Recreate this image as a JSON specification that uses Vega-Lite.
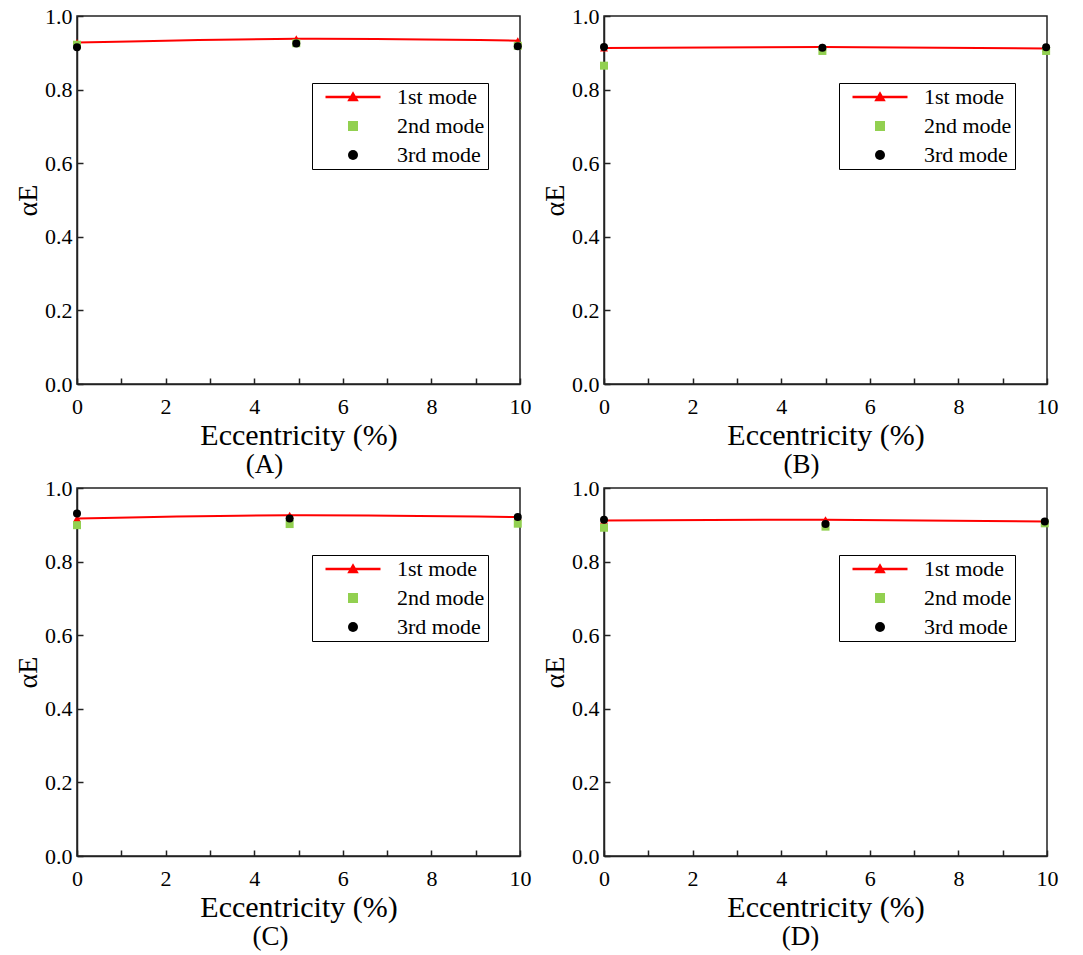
{
  "$schema": "https://vega.github.io/schema/vega-lite/v6.json",
  "background": "white",
  "padding": {"left": 13, "top": 4, "right": 5, "bottom": 5},
  "config": {
    "font": "Liberation Serif",
    "view": {"stroke": "#222222", "strokeWidth": 1.5},
    "axis": {"domainColor": "#222222", "domainWidth": 1.5, "tickColor": "#222222", "tickWidth": 1.5, "labelFont": "Liberation Serif", "labelFontSize": 22, "labelColor": "black", "titleFont": "Liberation Serif", "titleFontWeight": "normal", "titleColor": "black", "grid": false, "labelOverlap": false, "labelFlush": false},
    "legend": {"padding": 3, "strokeColor": "black", "fillColor": "white", "labelFontSize": 22, "labelFont": "Liberation Serif", "labelColor": "black", "symbolOffset": 27, "labelOffset": 33, "rowPadding": 7, "symbolOpacity": 1, "symbolStrokeWidth": 0, "cornerRadius": 0},
    "title": {"font": "Liberation Serif", "fontSize": 27, "fontWeight": "normal", "color": "black", "offset": 2}
  },
  "data": {"values": [
    {"panel": "A", "mode": "1st mode", "ecc": 0, "alpha": 0.928},
    {"panel": "A", "mode": "1st mode", "ecc": 4.95, "alpha": 0.938},
    {"panel": "A", "mode": "1st mode", "ecc": 9.95, "alpha": 0.933},
    {"panel": "A", "mode": "2nd mode", "ecc": 0, "alpha": 0.922},
    {"panel": "A", "mode": "2nd mode", "ecc": 4.95, "alpha": 0.926},
    {"panel": "A", "mode": "2nd mode", "ecc": 9.95, "alpha": 0.919},
    {"panel": "A", "mode": "3rd mode", "ecc": 0, "alpha": 0.915},
    {"panel": "A", "mode": "3rd mode", "ecc": 4.95, "alpha": 0.925},
    {"panel": "A", "mode": "3rd mode", "ecc": 9.95, "alpha": 0.918},
    {"panel": "B", "mode": "1st mode", "ecc": 0, "alpha": 0.913},
    {"panel": "B", "mode": "1st mode", "ecc": 4.93, "alpha": 0.916},
    {"panel": "B", "mode": "1st mode", "ecc": 9.98, "alpha": 0.912},
    {"panel": "B", "mode": "2nd mode", "ecc": 0, "alpha": 0.865},
    {"panel": "B", "mode": "2nd mode", "ecc": 4.93, "alpha": 0.905},
    {"panel": "B", "mode": "2nd mode", "ecc": 9.98, "alpha": 0.905},
    {"panel": "B", "mode": "3rd mode", "ecc": 0, "alpha": 0.916},
    {"panel": "B", "mode": "3rd mode", "ecc": 4.93, "alpha": 0.914},
    {"panel": "B", "mode": "3rd mode", "ecc": 9.98, "alpha": 0.915},
    {"panel": "C", "mode": "1st mode", "ecc": 0, "alpha": 0.917},
    {"panel": "C", "mode": "1st mode", "ecc": 4.8, "alpha": 0.926},
    {"panel": "C", "mode": "1st mode", "ecc": 9.95, "alpha": 0.921},
    {"panel": "C", "mode": "2nd mode", "ecc": 0, "alpha": 0.899},
    {"panel": "C", "mode": "2nd mode", "ecc": 4.8, "alpha": 0.902},
    {"panel": "C", "mode": "2nd mode", "ecc": 9.95, "alpha": 0.903},
    {"panel": "C", "mode": "3rd mode", "ecc": 0, "alpha": 0.931},
    {"panel": "C", "mode": "3rd mode", "ecc": 4.8, "alpha": 0.917},
    {"panel": "C", "mode": "3rd mode", "ecc": 9.95, "alpha": 0.921},
    {"panel": "D", "mode": "1st mode", "ecc": 0, "alpha": 0.912},
    {"panel": "D", "mode": "1st mode", "ecc": 5.0, "alpha": 0.914},
    {"panel": "D", "mode": "1st mode", "ecc": 9.95, "alpha": 0.909},
    {"panel": "D", "mode": "2nd mode", "ecc": 0, "alpha": 0.892},
    {"panel": "D", "mode": "2nd mode", "ecc": 5.0, "alpha": 0.895},
    {"panel": "D", "mode": "2nd mode", "ecc": 9.95, "alpha": 0.904},
    {"panel": "D", "mode": "3rd mode", "ecc": 0, "alpha": 0.914},
    {"panel": "D", "mode": "3rd mode", "ecc": 5.0, "alpha": 0.902},
    {"panel": "D", "mode": "3rd mode", "ecc": 9.95, "alpha": 0.909}
  ]},
  "columns": 2,
  "bounds": "flush",
  "spacing": {"row": 104, "column": 84},
  "resolve": {"scale": {"color": "independent", "shape": "independent"}},
  "concat": [
    {
      "width": 443, "height": 368,
      "title": {"text": "(A)", "orient": "bottom", "font": "Liberation Serif", "dx": -34},
      "transform": [{"filter": "datum.panel === 'A'"}],
      "layer": [
        {"transform": [{"filter": "datum.mode === '1st mode'"}],
         "mark": {"type": "line", "color": "#ff0000", "strokeWidth": 2, "interpolate": "natural"},
         "encoding": {
           "x": {"field": "ecc", "type": "quantitative", "scale": {"domain": [0, 10], "nice": false}, "axis": {"values": [0,0.5,1,1.5,2,2.5,3,3.5,4,4.5,5,5.5,6,6.5,7,7.5,8,8.5,9,9.5,10], "labelExpr": "datum.value % 2 == 0 ? format(datum.value, 'd') : ''", "tickSize": -6, "labelPadding": 18, "labelFont": "Liberation Serif", "labelFontSize": 22, "title": "Eccentricity (%)", "titleFont": "Liberation Serif", "titleFontSize": 30, "titlePadding": 3}},
           "y": {"field": "alpha", "type": "quantitative", "scale": {"domain": [0, 1], "nice": false}, "axis": {"values": [0,0.05,0.1,0.15,0.2,0.25,0.3,0.35,0.4,0.45,0.5,0.55,0.6,0.65,0.7,0.75,0.8,0.85,0.9,0.95,1], "labelExpr": "abs(datum.value*5 - round(datum.value*5)) < 0.001 ? format(datum.value, '.1f') : ''", "tickSize": -6, "labelPadding": 11, "labelFont": "Liberation Serif", "labelFontSize": 22, "title": "αE", "titleFont": "Liberation Serif", "titleFontSize": 28, "titlePadding": 2}}
         }},
        {"transform": [{"filter": "datum.mode === '1st mode'"}],
         "mark": {"type": "point", "shape": "triangle-up", "filled": true, "color": "#ff0000", "size": 64, "opacity": 1},
         "encoding": {
           "x": {"field": "ecc", "type": "quantitative", "scale": {"domain": [0, 10], "nice": false}},
           "y": {"field": "alpha", "type": "quantitative", "scale": {"domain": [0, 1], "nice": false}}
         }},
        {"transform": [{"filter": "datum.mode !== '1st mode'"}],
         "mark": {"type": "point", "filled": true, "size": 64, "opacity": 1},
         "encoding": {
           "x": {"field": "ecc", "type": "quantitative", "scale": {"domain": [0, 10], "nice": false}},
           "y": {"field": "alpha", "type": "quantitative", "scale": {"domain": [0, 1], "nice": false}},
           "color": {"field": "mode", "type": "nominal", "scale": {"domain": ["1st mode", "2nd mode", "3rd mode"], "range": ["#ff0000", "#92d050", "#000000"]}, "legend": {"orient": "none", "legendX": 235, "legendY": 67, "title": null, "labelFont": "Liberation Serif", "labelFontSize": 22}},
           "shape": {"field": "mode", "type": "nominal", "scale": {"domain": ["1st mode", "2nd mode", "3rd mode"], "range": ["M-5.5,-0.25L5.5,-0.25L5.5,0.25L-5.5,0.25Z M0,-1.15L1.15,0.85L-1.15,0.85Z", "square", "circle"]}, "legend": {"orient": "none", "legendX": 235, "legendY": 67, "title": null, "labelFont": "Liberation Serif", "labelFontSize": 22}}
         }}
      ]
    },
    {
      "width": 443, "height": 368,
      "title": {"text": "(B)", "orient": "bottom", "font": "Liberation Serif", "dx": -24},
      "transform": [{"filter": "datum.panel === 'B'"}],
      "layer": [
        {"transform": [{"filter": "datum.mode === '1st mode'"}],
         "mark": {"type": "line", "color": "#ff0000", "strokeWidth": 2, "interpolate": "natural"},
         "encoding": {
           "x": {"field": "ecc", "type": "quantitative", "scale": {"domain": [0, 10], "nice": false}, "axis": {"values": [0,0.5,1,1.5,2,2.5,3,3.5,4,4.5,5,5.5,6,6.5,7,7.5,8,8.5,9,9.5,10], "labelExpr": "datum.value % 2 == 0 ? format(datum.value, 'd') : ''", "tickSize": -6, "labelPadding": 18, "labelFont": "Liberation Serif", "labelFontSize": 22, "title": "Eccentricity (%)", "titleFont": "Liberation Serif", "titleFontSize": 30, "titlePadding": 3}},
           "y": {"field": "alpha", "type": "quantitative", "scale": {"domain": [0, 1], "nice": false}, "axis": {"values": [0,0.05,0.1,0.15,0.2,0.25,0.3,0.35,0.4,0.45,0.5,0.55,0.6,0.65,0.7,0.75,0.8,0.85,0.9,0.95,1], "labelExpr": "abs(datum.value*5 - round(datum.value*5)) < 0.001 ? format(datum.value, '.1f') : ''", "tickSize": -6, "labelPadding": 11, "labelFont": "Liberation Serif", "labelFontSize": 22, "title": "αE", "titleFont": "Liberation Serif", "titleFontSize": 28, "titlePadding": 2}}
         }},
        {"transform": [{"filter": "datum.mode === '1st mode'"}],
         "mark": {"type": "point", "shape": "triangle-up", "filled": true, "color": "#ff0000", "size": 64, "opacity": 1},
         "encoding": {
           "x": {"field": "ecc", "type": "quantitative", "scale": {"domain": [0, 10], "nice": false}},
           "y": {"field": "alpha", "type": "quantitative", "scale": {"domain": [0, 1], "nice": false}}
         }},
        {"transform": [{"filter": "datum.mode !== '1st mode'"}],
         "mark": {"type": "point", "filled": true, "size": 64, "opacity": 1},
         "encoding": {
           "x": {"field": "ecc", "type": "quantitative", "scale": {"domain": [0, 10], "nice": false}},
           "y": {"field": "alpha", "type": "quantitative", "scale": {"domain": [0, 1], "nice": false}},
           "color": {"field": "mode", "type": "nominal", "scale": {"domain": ["1st mode", "2nd mode", "3rd mode"], "range": ["#ff0000", "#92d050", "#000000"]}, "legend": {"orient": "none", "legendX": 235, "legendY": 67, "title": null, "labelFont": "Liberation Serif", "labelFontSize": 22}},
           "shape": {"field": "mode", "type": "nominal", "scale": {"domain": ["1st mode", "2nd mode", "3rd mode"], "range": ["M-5.5,-0.25L5.5,-0.25L5.5,0.25L-5.5,0.25Z M0,-1.15L1.15,0.85L-1.15,0.85Z", "square", "circle"]}, "legend": {"orient": "none", "legendX": 235, "legendY": 67, "title": null, "labelFont": "Liberation Serif", "labelFontSize": 22}}
         }}
      ]
    },
    {
      "width": 443, "height": 368,
      "title": {"text": "(C)", "orient": "bottom", "font": "Liberation Serif", "dx": -28},
      "transform": [{"filter": "datum.panel === 'C'"}],
      "layer": [
        {"transform": [{"filter": "datum.mode === '1st mode'"}],
         "mark": {"type": "line", "color": "#ff0000", "strokeWidth": 2, "interpolate": "natural"},
         "encoding": {
           "x": {"field": "ecc", "type": "quantitative", "scale": {"domain": [0, 10], "nice": false}, "axis": {"values": [0,0.5,1,1.5,2,2.5,3,3.5,4,4.5,5,5.5,6,6.5,7,7.5,8,8.5,9,9.5,10], "labelExpr": "datum.value % 2 == 0 ? format(datum.value, 'd') : ''", "tickSize": -6, "labelPadding": 18, "labelFont": "Liberation Serif", "labelFontSize": 22, "title": "Eccentricity (%)", "titleFont": "Liberation Serif", "titleFontSize": 30, "titlePadding": 3}},
           "y": {"field": "alpha", "type": "quantitative", "scale": {"domain": [0, 1], "nice": false}, "axis": {"values": [0,0.05,0.1,0.15,0.2,0.25,0.3,0.35,0.4,0.45,0.5,0.55,0.6,0.65,0.7,0.75,0.8,0.85,0.9,0.95,1], "labelExpr": "abs(datum.value*5 - round(datum.value*5)) < 0.001 ? format(datum.value, '.1f') : ''", "tickSize": -6, "labelPadding": 11, "labelFont": "Liberation Serif", "labelFontSize": 22, "title": "αE", "titleFont": "Liberation Serif", "titleFontSize": 28, "titlePadding": 2}}
         }},
        {"transform": [{"filter": "datum.mode === '1st mode'"}],
         "mark": {"type": "point", "shape": "triangle-up", "filled": true, "color": "#ff0000", "size": 64, "opacity": 1},
         "encoding": {
           "x": {"field": "ecc", "type": "quantitative", "scale": {"domain": [0, 10], "nice": false}},
           "y": {"field": "alpha", "type": "quantitative", "scale": {"domain": [0, 1], "nice": false}}
         }},
        {"transform": [{"filter": "datum.mode !== '1st mode'"}],
         "mark": {"type": "point", "filled": true, "size": 64, "opacity": 1},
         "encoding": {
           "x": {"field": "ecc", "type": "quantitative", "scale": {"domain": [0, 10], "nice": false}},
           "y": {"field": "alpha", "type": "quantitative", "scale": {"domain": [0, 1], "nice": false}},
           "color": {"field": "mode", "type": "nominal", "scale": {"domain": ["1st mode", "2nd mode", "3rd mode"], "range": ["#ff0000", "#92d050", "#000000"]}, "legend": {"orient": "none", "legendX": 235, "legendY": 67, "title": null, "labelFont": "Liberation Serif", "labelFontSize": 22}},
           "shape": {"field": "mode", "type": "nominal", "scale": {"domain": ["1st mode", "2nd mode", "3rd mode"], "range": ["M-5.5,-0.25L5.5,-0.25L5.5,0.25L-5.5,0.25Z M0,-1.15L1.15,0.85L-1.15,0.85Z", "square", "circle"]}, "legend": {"orient": "none", "legendX": 235, "legendY": 67, "title": null, "labelFont": "Liberation Serif", "labelFontSize": 22}}
         }}
      ]
    },
    {
      "width": 443, "height": 368,
      "title": {"text": "(D)", "orient": "bottom", "font": "Liberation Serif", "dx": -25},
      "transform": [{"filter": "datum.panel === 'D'"}],
      "layer": [
        {"transform": [{"filter": "datum.mode === '1st mode'"}],
         "mark": {"type": "line", "color": "#ff0000", "strokeWidth": 2, "interpolate": "natural"},
         "encoding": {
           "x": {"field": "ecc", "type": "quantitative", "scale": {"domain": [0, 10], "nice": false}, "axis": {"values": [0,0.5,1,1.5,2,2.5,3,3.5,4,4.5,5,5.5,6,6.5,7,7.5,8,8.5,9,9.5,10], "labelExpr": "datum.value % 2 == 0 ? format(datum.value, 'd') : ''", "tickSize": -6, "labelPadding": 18, "labelFont": "Liberation Serif", "labelFontSize": 22, "title": "Eccentricity (%)", "titleFont": "Liberation Serif", "titleFontSize": 30, "titlePadding": 3}},
           "y": {"field": "alpha", "type": "quantitative", "scale": {"domain": [0, 1], "nice": false}, "axis": {"values": [0,0.05,0.1,0.15,0.2,0.25,0.3,0.35,0.4,0.45,0.5,0.55,0.6,0.65,0.7,0.75,0.8,0.85,0.9,0.95,1], "labelExpr": "abs(datum.value*5 - round(datum.value*5)) < 0.001 ? format(datum.value, '.1f') : ''", "tickSize": -6, "labelPadding": 11, "labelFont": "Liberation Serif", "labelFontSize": 22, "title": "αE", "titleFont": "Liberation Serif", "titleFontSize": 28, "titlePadding": 2}}
         }},
        {"transform": [{"filter": "datum.mode === '1st mode'"}],
         "mark": {"type": "point", "shape": "triangle-up", "filled": true, "color": "#ff0000", "size": 64, "opacity": 1},
         "encoding": {
           "x": {"field": "ecc", "type": "quantitative", "scale": {"domain": [0, 10], "nice": false}},
           "y": {"field": "alpha", "type": "quantitative", "scale": {"domain": [0, 1], "nice": false}}
         }},
        {"transform": [{"filter": "datum.mode !== '1st mode'"}],
         "mark": {"type": "point", "filled": true, "size": 64, "opacity": 1},
         "encoding": {
           "x": {"field": "ecc", "type": "quantitative", "scale": {"domain": [0, 10], "nice": false}},
           "y": {"field": "alpha", "type": "quantitative", "scale": {"domain": [0, 1], "nice": false}},
           "color": {"field": "mode", "type": "nominal", "scale": {"domain": ["1st mode", "2nd mode", "3rd mode"], "range": ["#ff0000", "#92d050", "#000000"]}, "legend": {"orient": "none", "legendX": 235, "legendY": 67, "title": null, "labelFont": "Liberation Serif", "labelFontSize": 22}},
           "shape": {"field": "mode", "type": "nominal", "scale": {"domain": ["1st mode", "2nd mode", "3rd mode"], "range": ["M-5.5,-0.25L5.5,-0.25L5.5,0.25L-5.5,0.25Z M0,-1.15L1.15,0.85L-1.15,0.85Z", "square", "circle"]}, "legend": {"orient": "none", "legendX": 235, "legendY": 67, "title": null, "labelFont": "Liberation Serif", "labelFontSize": 22}}
         }}
      ]
    }
  ]
}
